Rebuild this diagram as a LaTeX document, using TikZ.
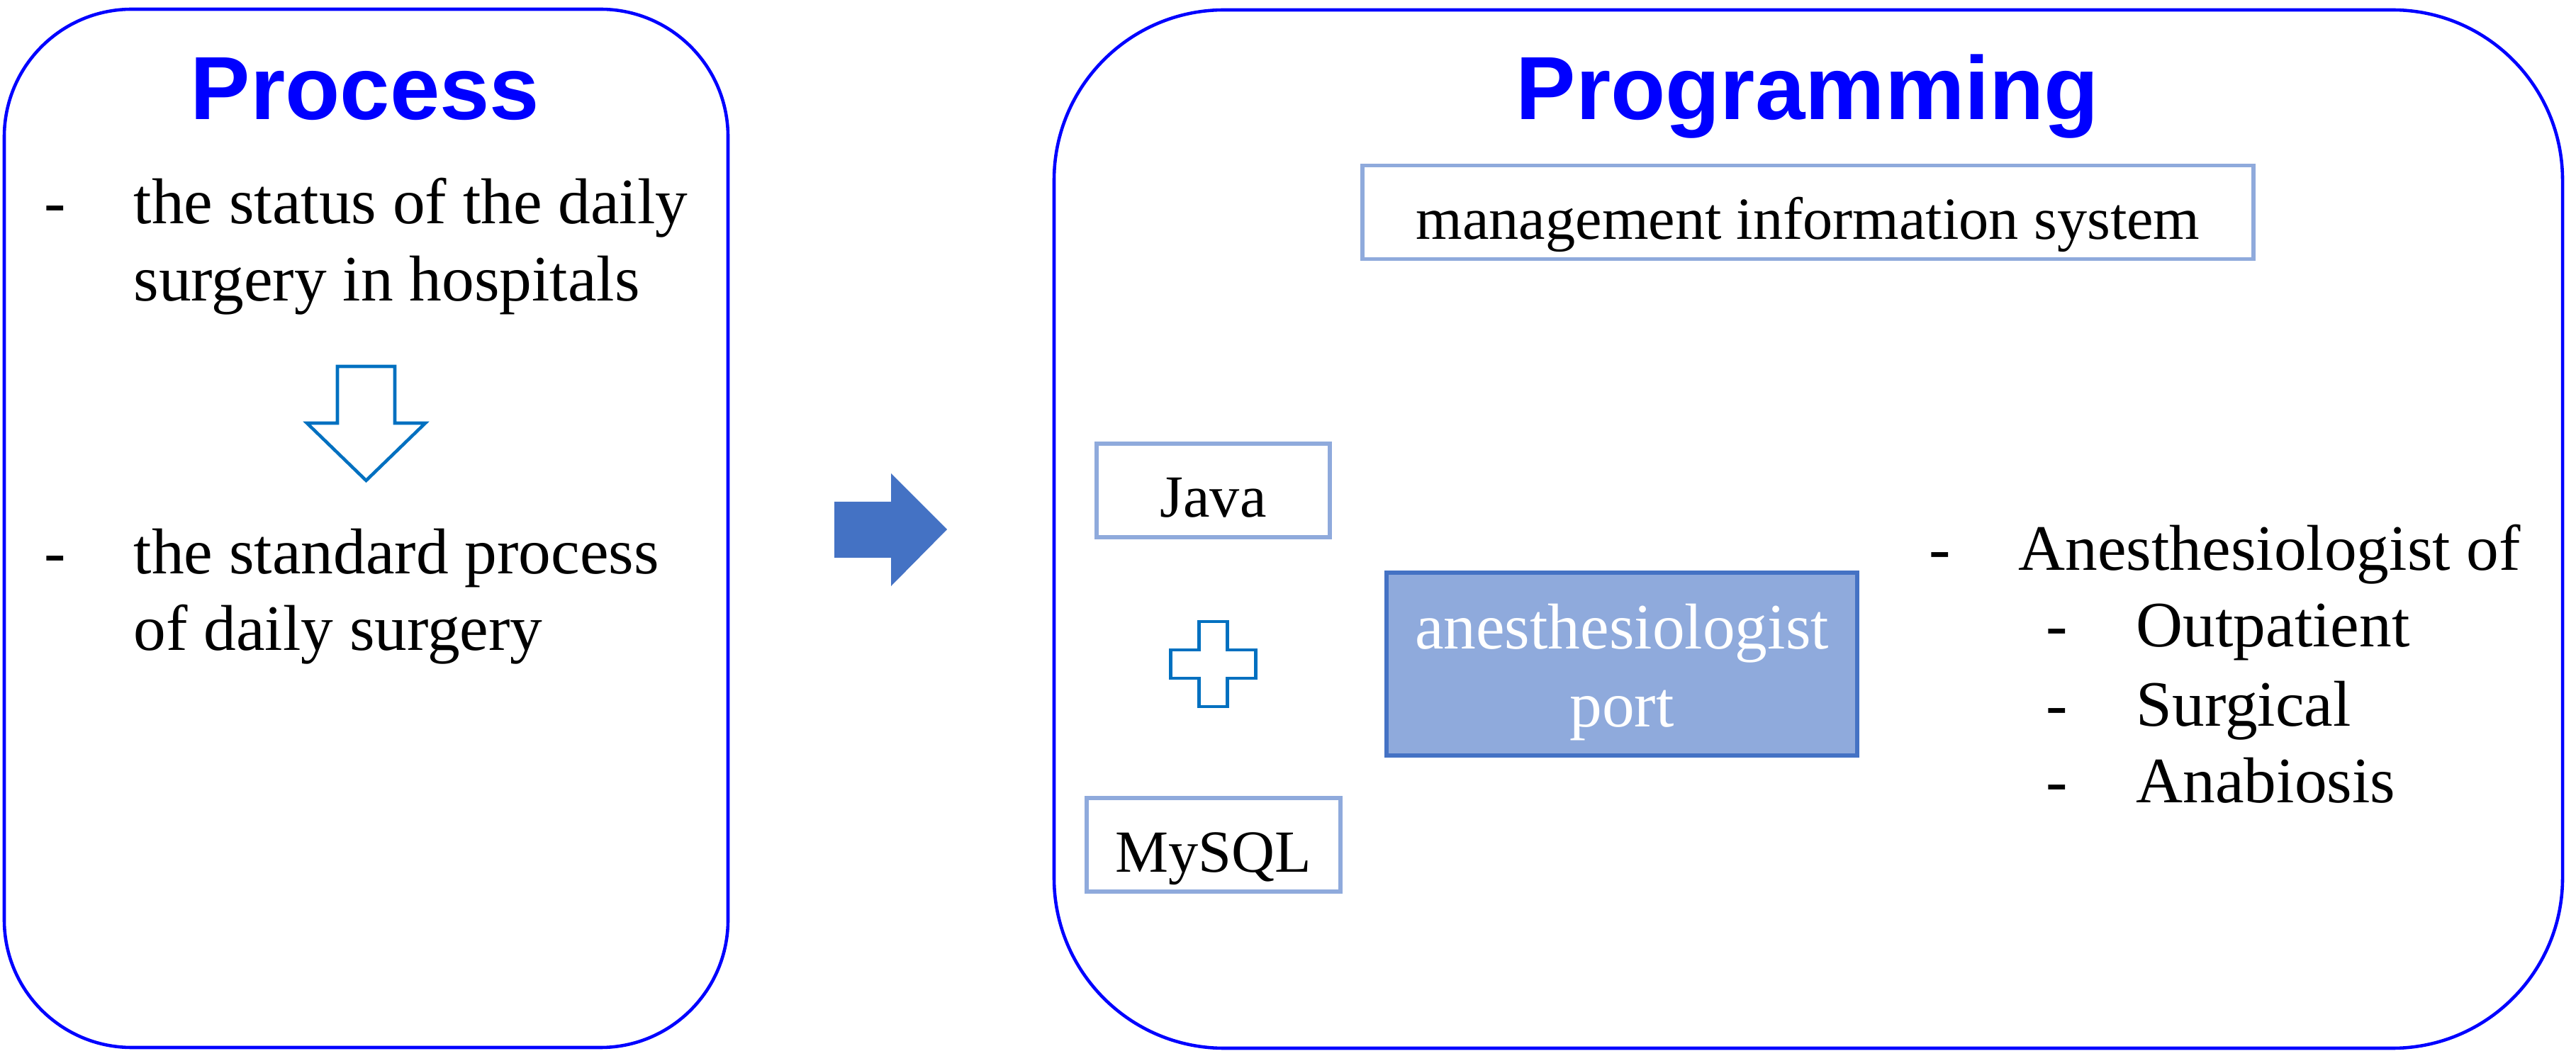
\documentclass[tikz,border=0pt]{standalone}
\usepackage{fontspec}
\setmainfont{Liberation Serif}
\setsansfont{Liberation Sans}
\usepackage{tikz}

\definecolor{frameblue}{HTML}{0000FF}
\definecolor{outlineblue}{HTML}{0070C0}
\definecolor{darkblue}{HTML}{4472C4}
\definecolor{paleblue}{HTML}{8FAADC}

\begin{document}
\begin{tikzpicture}[
  panel/.style={draw=frameblue, line width=1.3pt},
  title/.style={font=\sffamily\bfseries\fontsize{36}{43}\selectfont, text=frameblue, anchor=base, inner sep=0},
  item/.style={font=\fontsize{26}{31}\selectfont, anchor=base west, inner sep=0},
  dashmark/.style={font=\fontsize{26}{31}\selectfont, anchor=base, inner sep=0},
  techbox/.style={draw=paleblue, line width=1.6pt, minimum height=1.32cm, font=\fontsize{24}{29}\selectfont, text height=0.76cm, text depth=0cm, inner sep=0},
  portbox/.style={draw=darkblue, fill=paleblue, line width=1.7pt, minimum width=6.64cm, minimum height=2.58cm, text=white, align=center, text height=1.98cm, text depth=0.2cm, font=\fontsize{26}{31.5}\selectfont}
]
\useasboundingbox (0,0) rectangle (36.34,14.89);

% Panels
\node[panel, rounded corners=1.8cm, minimum width=10.21cm, minimum height=14.65cm] (process) at (5.165,7.435) {};
\node[panel, rounded corners=2.4cm, minimum width=21.28cm, minimum height=14.65cm] (programming) at (25.51,7.425) {};
\node[title] (processtitle) at (5.15,13.20) {Process};
\node[title] (programmingtitle) at (25.5,13.20) {Programming};

% Left list
\node[dashmark] (d1) at (0.78,11.73) {-};
\node[item] (s1) at (1.88,11.73) {the status of the daily};
\node[item] (s2) at (1.88,10.64) {surgery in hospitals};
\node[dashmark] (d2) at (0.78,6.79) {-};
\node[item] (s3) at (1.88,6.79) {the standard process};
\node[item] (s4) at (1.88,5.71) {of daily surgery};

% Down arrow (outline)
\draw[outlineblue, line width=1.3pt] (4.76,9.72) -- (5.57,9.72) -- (5.57,8.92) -- (6.00,8.92)
  -- (5.165,8.11) -- (4.33,8.92) -- (4.76,8.92) -- cycle;

% Big arrow between the panels
\fill[darkblue] (11.77,7.81) -- (12.57,7.81) -- (12.57,8.21) -- (13.36,7.42)
  -- (12.57,6.62) -- (12.57,7.02) -- (11.77,7.02) -- cycle;

% Boxes
\node[techbox, minimum width=12.57cm] (mis) at (25.505,11.895) {management information system};
\node[techbox, minimum width=3.29cm] (java) at (17.115,7.97) {Java};
\node[techbox, minimum width=3.58cm] (mysql) at (17.12,2.97) {MySQL};
\node[portbox] (port) at (22.88,5.52) {anesthesiologist\\port};

% Plus sign
\draw[outlineblue, line width=1.3pt] (17.115,5.52) ++(-0.2,0.6) -- ++(0.4,0) -- ++(0,-0.4) -- ++(0.4,0)
  -- ++(0,-0.4) -- ++(-0.4,0) -- ++(0,-0.4) -- ++(-0.4,0) -- ++(0,0.4) -- ++(-0.4,0)
  -- ++(0,0.4) -- ++(0.4,0) -- cycle;

% Right list
\node[dashmark] (d3) at (27.37,6.84) {-};
\node[item] (a1) at (28.47,6.84) {Anesthesiologist of};
\node[dashmark] (d4) at (29.02,5.76) {-};
\node[item] (a2) at (30.13,5.76) {Outpatient};
\node[dashmark] (d5) at (29.02,4.64) {-};
\node[item] (a3) at (30.13,4.64) {Surgical};
\node[dashmark] (d6) at (29.02,3.56) {-};
\node[item] (a4) at (30.13,3.56) {Anabiosis};

\end{tikzpicture}
\end{document}
